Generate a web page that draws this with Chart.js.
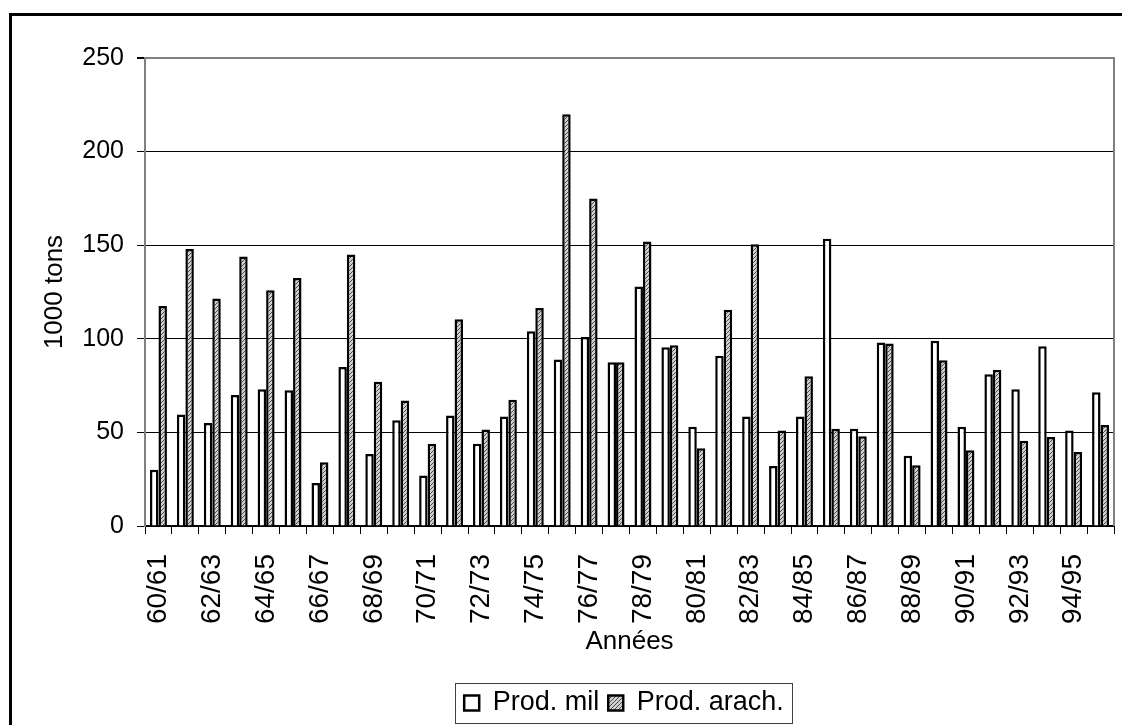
<!DOCTYPE html>
<html>
<head>
<meta charset="utf-8">
<script src="https://cdn.jsdelivr.net/npm/chart.js@4.4.1/dist/chart.umd.min.js"></script>
<style>
html,body{margin:0;padding:0;background:#fff;}
canvas{display:block;}
</style>
</head>
<body>
<canvas id="c" width="1122" height="725"></canvas>
<script>
const categories = ['60/61','61/62','62/63','63/64','64/65','65/66','66/67','67/68','68/69','69/70',
  '70/71','71/72','72/73','73/74','74/75','75/76','76/77','77/78','78/79','79/80',
  '80/81','81/82','82/83','83/84','84/85','85/86','86/87','87/88','88/89','89/90',
  '90/91','91/92','92/93','93/94','94/95','95/96'];
const prodMil = [30, 59.5, 55, 70, 73, 72.5, 23, 85, 38.5, 56.5,
  27, 59, 44, 58.5, 104, 89, 101, 87.5, 128, 95.5,
  53, 91, 58.5, 32, 58.5, 153.5, 52, 98, 37.5, 99,
  53, 81, 73, 96, 51, 71.5];
const prodArach = [117.5, 148, 121.5, 144, 126, 132.5, 34, 145, 77, 67,
  44, 110.5, 51.5, 67.5, 116.5, 220, 175, 87.5, 152, 96.5,
  41.5, 115.5, 150.5, 51, 80, 52, 48, 97.5, 32.5, 88.5,
  40.5, 83.5, 45.5, 47.5, 39.5, 54];
const yTicks = [0, 50, 100, 150, 200, 250];
const seriesNames = ['Prod. mil', 'Prod. arach.'];
const yTitle = '1000 tons';
const xTitle = 'Années';

function makeHatch() {
  const p = document.createElement('canvas');
  p.width = 4; p.height = 4;
  const g = p.getContext('2d');
  g.fillStyle = '#cfcfcf'; g.fillRect(0, 0, 4, 4);
  g.fillStyle = '#4a4a4a';
  for (let i = 0; i < 4; i++) { g.fillRect(i, 3 - i, 1, 1); }
  return g.createPattern(p, 'repeat');
}

Chart.defaults.font.family = "'Liberation Sans', Arial, sans-serif";
Chart.defaults.font.size = 25;
Chart.defaults.color = '#000';

const PLOT_BOTTOM = 526;

const framePlugin = {
  id: 'frame',
  afterLayout(chart) {
    const lg = chart.legend;
    if (!lg) return;
    const pad = lg.options.labels.padding;
    const ih = Math.max(lg.options.labels.font.size, lg.options.labels.boxHeight);
    const dy = (703 - ih / 2 - pad) - lg.top;
    lg.top += dy; lg.bottom += dy;
    const dx = 624 - (lg.left + lg.right) / 2;
    lg.left += dx; lg.right += dx;
  },
  beforeDraw(chart) {
    const ctx = chart.ctx;
    ctx.save();
    ctx.fillStyle = '#fff';
    ctx.fillRect(0, 0, chart.width, chart.height);
    ctx.restore();
  },
  afterDraw(chart) {
    const {ctx, chartArea: a} = chart;
    ctx.save();
    ctx.strokeStyle = '#808080';
    ctx.lineWidth = 2;
    ctx.beginPath();
    ctx.moveTo(a.right, a.top - 1);
    ctx.lineTo(a.right, a.bottom);
    ctx.stroke();
    ctx.strokeStyle = '#000';
    ctx.lineWidth = 3;
    ctx.strokeRect(10.5, 14.5, 1400, 900);
    const hb = chart.legend.legendHitBoxes;
    if (hb && hb.length) {
      const l = hb[0].left - 9;
      const r = hb[hb.length - 1].left + hb[hb.length - 1].width + 8;
      const c = hb[0].top + hb[0].height / 2;
      const t = c - 20;
      const b = c + 20;
      ctx.strokeStyle = '#404040';
      ctx.lineWidth = 1;
      ctx.strokeRect(Math.round(l) + 0.5, Math.round(t) + 0.5, Math.round(r - l), Math.round(b - t));
    }
    ctx.restore();
  }
};

new Chart(document.getElementById('c'), {
  type: 'bar',
  data: {
    labels: categories,
    datasets: [
      { label: seriesNames[0], data: prodMil, backgroundColor: '#ffffff', borderColor: '#000', borderWidth: 2.5,
        categoryPercentage: 0.63, barPercentage: 1.0 },
      { label: seriesNames[1], data: prodArach, backgroundColor: makeHatch(), borderColor: '#000', borderWidth: 2.5,
        categoryPercentage: 0.63, barPercentage: 1.0 }
    ]
  },
  options: {
    responsive: false,
    animation: false,
    devicePixelRatio: 1,
    layout: { padding: { top: 58, right: 8, bottom: 0, left: 0 } },
    plugins: {
      legend: {
        position: 'bottom',
        labels: { boxWidth: 15, boxHeight: 15, padding: 9, color: '#000', font: { size: 27 } }
      },
      tooltip: { enabled: false }
    },
    scales: {
      x: {
        grid: { offset: true, drawOnChartArea: false, drawTicks: true, tickLength: 8, color: '#000', lineWidth: 1 },
        border: { color: '#000', width: 2 },
        ticks: {
          autoSkip: false, minRotation: 90, maxRotation: 90, padding: 20, color: '#000', font: { size: 28 },
          callback: (v, i) => (i % 2 === 0 ? categories[i] : '')
        },
        title: { display: true, text: xTitle, color: '#000', font: { size: 26 }, padding: { top: 0, bottom: 22 } },
        afterFit: s => {
          const lh = (s.chart.legend && s.chart.legend.height) || 46;
          s.height = 725 - PLOT_BOTTOM - lh;
          s.paddingLeft = 0; s.paddingRight = 0;
        }
      },
      y: {
        min: 0, max: 250,
        afterBuildTicks: s => { s.ticks = yTicks.map(v => ({ value: v })); },
        ticks: { padding: 13, color: '#000', font: { size: 25 } },
        grid: {
          color: c => (c.tick && c.tick.value === 250 ? '#808080' : '#000'),
          lineWidth: c => (c.tick && c.tick.value === 250 ? 2 : 1),
          tickColor: '#000', tickLength: 8
        },
        border: { color: '#808080', width: 2 },
        title: { display: true, text: yTitle, color: '#000', font: { size: 26 }, padding: { top: 39, bottom: 0 } },
        afterFit: s => { s.width = 145; s.paddingTop = 0; s.paddingBottom = 0; }
      }
    }
  },
  plugins: [framePlugin]
});
</script>
</body>
</html>
